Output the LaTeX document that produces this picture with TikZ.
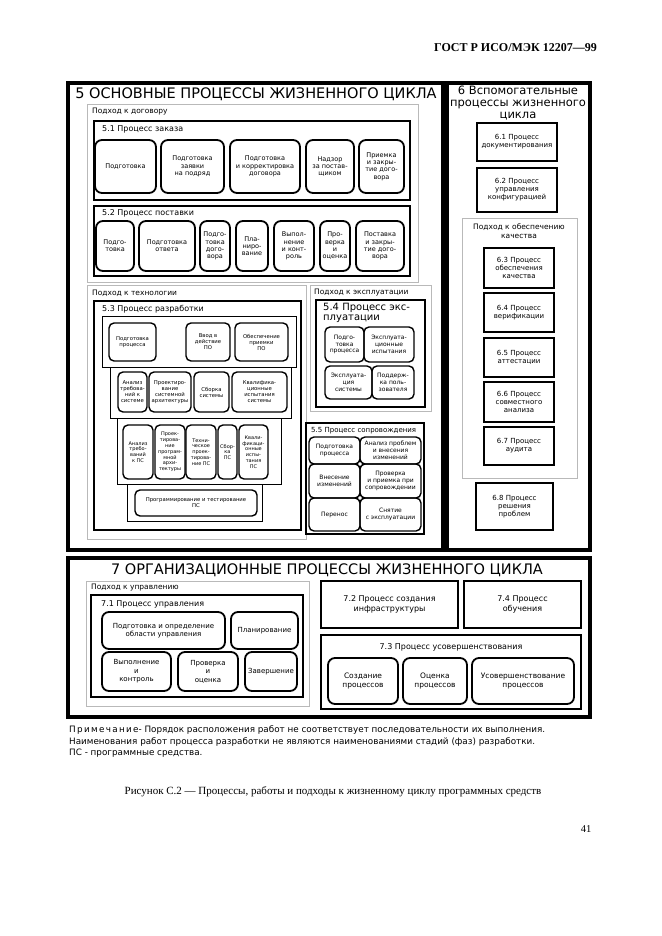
\documentclass[tikz,border=0pt]{standalone}
\usepackage{fontspec}
\setmainfont{Liberation Serif}
\newfontfamily\diafont{DejaVu Sans}
\usetikzlibrary{positioning}

\begin{document}
\begin{tikzpicture}[x=1pt, y=-1pt,
  bigframe/.style={draw, line width=4.5pt},
  approach/.style={draw=gray!55, line width=0.8pt},
  procframe/.style={draw, line width=2.4pt},
  rowframe/.style={draw, line width=0.9pt},
  act/.style={draw, line width=1.8pt, rounded corners=7pt, align=center,
              inner sep=0.5pt, font=\diafont\fontsize{6.5}{7.3}\selectfont},
  actsmall/.style={act, line width=1.4pt, rounded corners=5pt,
                   font=\diafont\fontsize{5.3}{6}\selectfont},
  cell/.style={act, line width=1.4pt, rounded corners=5pt,
               font=\diafont\fontsize{6}{6.8}\selectfont},
  sqbox/.style={draw, line width=2.2pt, align=center, inner sep=1pt,
                font=\diafont\fontsize{7}{8}\selectfont},
  bigtitle/.style={inner sep=0pt, font=\diafont\fontsize{14.5}{16}\selectfont},
  apprlabel/.style={anchor=west, inner sep=0pt,
                    font=\diafont\fontsize{7.5}{8.5}\selectfont},
  proclabel/.style={anchor=west, inner sep=0pt,
                    font=\diafont\fontsize{8}{9}\selectfont},
  junction/.style={circle, draw, fill=white, line width=1.1pt,
                   minimum size=5pt, inner sep=0pt},
  noteline/.style={anchor=west, inner sep=0pt,
                   font=\diafont\fontsize{8.8}{10}\selectfont}
]
\useasboundingbox (0,0) rectangle (661,936);

% Page header
\node[anchor=east, inner sep=0pt, font=\bfseries\fontsize{12}{14}\selectfont]
  (hdr) at (597,48) {ГОСТ Р ИСО/МЭК 12207—99};

%% 5 Основные процессы
\draw[bigframe] (68,83) rectangle (443,550);
\node[bigtitle] (T5) at (256,94) {5 ОСНОВНЫЕ ПРОЦЕССЫ ЖИЗНЕННОГО ЦИКЛА};

% Подход к договору
\draw[approach] (87,104) rectangle (418,282);
\node[apprlabel] (A1) at (92,112) {Подход к договору};

% 5.1 Процесс заказа
\draw[procframe] (94,121) rectangle (410,200);
\node[proclabel] (L51) at (102,129) {5.1 Процесс заказа};
\foreach \xa/\xb/\txt [count=\i] in {
    95/156/{Подготовка},
    161/224/{Подготовка\\заявки\\на подряд},
    230/300/{Подготовка\\и корректировка\\договора},
    306/354/{Надзор\\за постав-\\щиком},
    359/404/{Приемка\\и закры-\\тие дого-\\вора}}{
  \node[act, minimum width=\xb-\xa, minimum height=53] (Z\i) at ({(\xa+\xb)/2},166.5) {\txt};
}

% 5.2 Процесс поставки
\draw[procframe] (94,206) rectangle (410,276);
\node[proclabel] (L52) at (102,213) {5.2 Процесс поставки};
\foreach \xa/\xb/\txt [count=\i] in {
    96/134/{Подго-\\товка},
    139/195/{Подготовка\\ответа},
    200/230/{Подго-\\товка\\дого-\\вора},
    236/268/{Пла-\\ниро-\\вание},
    274/314/{Выпол-\\нение\\и конт-\\роль},
    320/350/{Про-\\верка\\и\\оценка},
    356/404/{Поставка\\и закры-\\тие дого-\\вора}}{
  \node[act, minimum width=\xb-\xa, minimum height=50] (P\i) at ({(\xa+\xb)/2},246) {\txt};
}

% Подход к технологии
\draw[approach] (87,285) rectangle (306,539);
\node[apprlabel] (A2) at (92,293) {Подход к технологии};

% 5.3 Процесс разработки
\draw[procframe] (94,301) rectangle (301,530);
\node[proclabel] (L53) at (102,309) {5.3 Процесс разработки};
\draw[rowframe] (102,316) rectangle (296,367);
\draw[rowframe] (110,367) rectangle (291,418);
\draw[rowframe] (117,418) rectangle (281,484);
\draw[rowframe] (127,484) rectangle (262,521);
\foreach \xa/\xb/\txt [count=\i] in {
    109/156/{Подготовка\\процесса},
    186/230/{Ввод в\\действие\\ПО},
    235/288/{Обеспечение\\приемки\\ПО}}{
  \node[actsmall, minimum width=\xb-\xa, minimum height=38] (R1\i) at ({(\xa+\xb)/2},342) {\txt};
}
\foreach \xa/\xb/\txt [count=\i] in {
    118/147/{Анализ\\требова-\\ний к\\системе},
    149/191/{Проектиро-\\вание\\системной\\архитектуры},
    194/229/{Сборка\\системы},
    232/287/{Квалифика-\\ционные\\испытания\\системы}}{
  \node[actsmall, minimum width=\xb-\xa, minimum height=40] (R2\i) at ({(\xa+\xb)/2},392) {\txt};
}
\foreach \xa/\xb/\txt [count=\i] in {
    123/153/{Анализ\\требо-\\ваний\\к ПС},
    155/185/{Проек-\\тирова-\\ние\\програм-\\мной\\архи-\\тектуры},
    186/216/{Техни-\\ческое\\проек-\\тирова-\\ние ПС},
    218/237/{Сбор-\\ка\\ПС},
    239/268/{Квали-\\фикаци-\\онные\\испы-\\тания\\ПС}}{
  \node[actsmall, font=\diafont\fontsize{5}{5.8}\selectfont, minimum width=\xb-\xa,
        minimum height=54] (R3\i) at ({(\xa+\xb)/2},452) {\txt};
}
\node[actsmall, minimum width=122, minimum height=26] (R41) at (196,503)
  {Программирование и тестирование\\ПС};

% Подход к эксплуатации
\draw[approach] (310,285) rectangle (431,411);
\node[apprlabel] (A3) at (314,293) {Подход к эксплуатации};

% 5.4 Процесс эксплуатации
\draw[procframe] (316,300) rectangle (425,407);
\node[anchor=north west, align=left, inner sep=0pt,
      font=\diafont\fontsize{10}{10.5}\selectfont] (L54) at (323,303)
  {5.4 Процесс экс-\\плуатации};
\foreach \xa/\xb/\ya/\yb/\txt [count=\i] in {
    325/364/327/362/{Подго-\\товка\\процесса},
    364/414/327/362/{Эксплуата-\\ционные\\испытания},
    325/372/366/399/{Эксплуата-\\ция\\системы},
    372/414/366/399/{Поддерж-\\ка поль-\\зователя}}{
  \node[cell, minimum width=\xb-\xa, minimum height=\yb-\ya]
    (E\i) at ({(\xa+\xb)/2},{(\ya+\yb)/2}) {\txt};
}

% 5.5 Процесс сопровождения
\draw[procframe] (306,423) rectangle (424,534);
\node[proclabel, font=\diafont\fontsize{7}{8}\selectfont] (L55) at (311,431)
  {5.5 Процесс сопровождения};
\foreach \xa/\xb/\ya/\yb/\txt [count=\i] in {
    309/360/437/464/{Подготовка\\процесса},
    360/421/437/464/{Анализ проблем\\и внесения\\изменений},
    309/360/464/498/{Внесение\\изменений},
    360/421/464/498/{Проверка\\и приемка при\\сопровождении},
    309/360/498/531/{Перенос},
    360/421/498/531/{Снятие\\с эксплуатации}}{
  \node[cell, minimum width=\xb-\xa, minimum height=\yb-\ya]
    (S\i) at ({(\xa+\xb)/2},{(\ya+\yb)/2}) {\txt};
}
\node[junction] (J1) at (360,464) {};
\node[junction] (J2) at (360,498) {};

%% 6 Вспомогательные процессы
\draw[bigframe] (447,83) rectangle (590,550);
\node[align=center, inner sep=0pt, font=\diafont\fontsize{11.5}{12.3}\selectfont]
  (T6) at (518,103) {6 Вспомогательные\\процессы жизненного\\цикла};
\foreach \ya/\yb/\txt [count=\i] in {
    123/161/{6.1 Процесс\\документирования},
    168/212/{6.2 Процесс\\управления\\конфигурацией}}{
  \node[sqbox, minimum width=80, minimum height=\yb-\ya] (B\i) at (517,{(\ya+\yb)/2}) {\txt};
}

% Подход к обеспечению качества
\draw[approach] (462,218) rectangle (577,478);
\node[align=center, inner sep=0pt, font=\diafont\fontsize{7.5}{9}\selectfont]
  (A4) at (519,231) {Подход к обеспечению\\качества};
\foreach \ya/\yb/\txt [count=\i from 3] in {
    248/288/{6.3 Процесс\\обеспечения\\качества},
    293/332/{6.4 Процесс\\верификации},
    338/377/{6.5 Процесс\\аттестации},
    382/422/{6.6 Процесс\\совместного\\анализа},
    427/465/{6.7 Процесс\\аудита}}{
  \node[sqbox, minimum width=70, minimum height=\yb-\ya] (B\i) at (519,{(\ya+\yb)/2}) {\txt};
}
\node[sqbox, minimum width=77, minimum height=47] (B8) at (514.5,506.5)
  {6.8 Процесс\\решения\\проблем};

%% 7 Организационные процессы
\draw[bigframe] (68,558) rectangle (590,717);
\node[bigtitle] (T7) at (327,570) {7 ОРГАНИЗАЦИОННЫЕ ПРОЦЕССЫ ЖИЗНЕННОГО ЦИКЛА};

% Подход к управлению
\draw[approach] (86,581) rectangle (309,706);
\node[apprlabel] (A5) at (91,588) {Подход к управлению};

% 7.1 Процесс управления
\draw[procframe] (91,595) rectangle (303,697);
\node[proclabel] (L71) at (101,604) {7.1 Процесс управления};
\foreach \xa/\xb/\ya/\yb/\txt [count=\i] in {
    102/225/612/649/{Подготовка и определение\\области управления},
    231/298/612/649/{Планирование},
    102/171/652/691/{Выполнение\\и\\контроль},
    178/238/652/691/{Проверка\\и\\оценка},
    245/297/652/691/{Завершение}}{
  \node[act, font=\diafont\fontsize{7}{8.5}\selectfont, minimum width=\xb-\xa,
        minimum height=\yb-\ya] (U\i) at ({(\xa+\xb)/2},{(\ya+\yb)/2}) {\txt};
}

% 7.2, 7.4
\node[sqbox, font=\diafont\fontsize{8}{9.5}\selectfont, minimum width=137,
      minimum height=47] (B72) at (389.5,604.5) {7.2 Процесс создания\\инфраструктуры};
\node[sqbox, font=\diafont\fontsize{8}{9.5}\selectfont, minimum width=117,
      minimum height=47] (B74) at (522.5,604.5) {7.4 Процесс\\обучения};

% 7.3 Процесс усовершенствования
\draw[procframe] (321,635) rectangle (581,709);
\node[proclabel, anchor=center] (L73) at (451,647) {7.3 Процесс усовершенствования};
\foreach \xa/\xb/\txt [count=\i] in {
    328/398/{Создание\\процессов},
    403/467/{Оценка\\процессов},
    472/574/{Усовершенствование\\процессов}}{
  \node[act, font=\diafont\fontsize{7.5}{9}\selectfont, minimum width=\xb-\xa,
        minimum height=46] (V\i) at ({(\xa+\xb)/2},681) {\txt};
}

% Примечание
\node[noteline] (N1) at (69,730)
  {{\addfontfeatures{LetterSpace=15}Примечание}- Порядок расположения работ не соответствует последовательности их выполнения.};
\node[noteline] (N2) at (69,742)
  {Наименования работ процесса разработки не являются наименованиями стадий (фаз) разработки.};
\node[noteline] (N3) at (69,753) {ПС - программные средства.};

% Caption and page number
\node[font=\fontsize{11}{13}\selectfont] (cap) at (333,792)
  {Рисунок С.2 — Процессы, работы и подходы к жизненному циклу программных средств};
\node[font=\fontsize{10.5}{12}\selectfont] (pg) at (586,829) {41};

\end{tikzpicture}
\end{document}
